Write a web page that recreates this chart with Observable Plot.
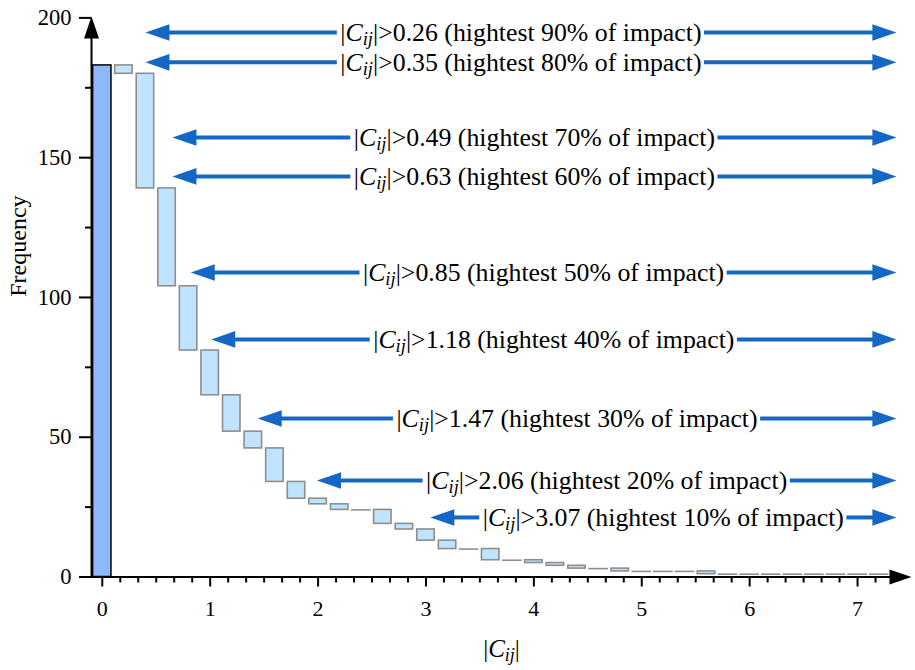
<!DOCTYPE html>
<html>
<head>
<meta charset="utf-8">
<script src="https://cdn.jsdelivr.net/npm/d3@7"></script>
<script src="https://cdn.jsdelivr.net/npm/@observablehq/plot@0.6"></script>
<style>
  html, body { margin: 0; padding: 0; background: #fff; }
  #chart svg { display: block; font-family: "Liberation Serif", serif; }
  #chart svg text, #chart svg tspan { font-family: "Liberation Serif", serif; }
</style>
</head>
<body>
<div id="chart"></div>
<script>
// ---- data ----
const binCenters = [0, 0.2, 0.4, 0.6, 0.8, 1.0, 1.2, 1.4, 1.6, 1.8, 2.0, 2.2, 2.4, 2.6, 2.8, 3.0, 3.2, 3.4, 3.6, 3.8,
                    4.0, 4.2, 4.4, 4.6, 4.8, 5.0, 5.2, 5.4, 5.6, 5.8, 6.0, 6.2, 6.4, 6.6, 6.8, 7.0, 7.2];
const remaining = [183, 180, 139, 104, 81, 65, 52, 46, 34, 28, 26, 24, 24, 19, 17, 13, 10, 10, 6, 6,
                   5, 4, 3, 3, 2, 2, 2, 2, 1, 1, 1, 1, 1, 1, 1, 1, 1];

const thresholds = ["0.26", "0.35", "0.49", "0.63", "0.85", "1.18", "1.47", "2.06", "3.07"];
const impactShares = [90, 80, 70, 60, 50, 40, 30, 20, 10];
const arrowLevels = [194.8, 184.1, 157.2, 143.3, 108.9, 85.0, 56.7, 34.5, 21.3];
const arrowStarts = [0.40, 0.40, 0.65, 0.65, 0.82, 1.01, 1.44, 1.99, 3.04];
const arrowEnd = 7.36;

const yMajorTicks = [0, 50, 100, 150, 200];
const yMinorTicks = [25, 75, 125, 175];
const xMajorTicks = [0, 1, 2, 3, 4, 5, 6, 7];
const xMinorTicks = d3.range(1, 44).map(i => i / 6).filter(v => Math.abs(v - Math.round(v)) > 1e-6);

// ---- layout ----
const W = 915, H = 670;
const mL = 91, mR = 4, mT = 16, mB = 93.5;
const xDomain = [-0.1, 7.5], yDomain = [0, 200.5];
const pxPerX = (W - mL - mR) / (xDomain[1] - xDomain[0]);
const halfW = 0.081;
const blue = "#1467c4";
const headLen = 24, headHalf = 8.3;
const serif = "Liberation Serif";
const annoSize = 25.8;
const subScale = 0.72;

function triangle(dir, len, half) {
  return {
    draw(ctx) {
      if (dir === "right") { ctx.moveTo(0, 0); ctx.lineTo(-len, -half); ctx.lineTo(-len, half); }
      else if (dir === "left") { ctx.moveTo(0, 0); ctx.lineTo(len, -half); ctx.lineTo(len, half); }
      else if (dir === "up") { ctx.moveTo(0, 0); ctx.lineTo(-half, len); ctx.lineTo(half, len); }
      ctx.closePath();
    }
  };
}

// measure the rich label width (for the gap in the arrow line)
const mctx = document.createElement("canvas").getContext("2d");
function measure(txt, style, size) {
  mctx.font = `${style} ${size}px "Liberation Serif", serif`;
  return mctx.measureText(txt).width;
}
function labelWidth(rest, size) {
  return measure("|", "normal", size) + measure("C", "italic", size) +
         measure("ij", "italic", size * subScale) + measure("|" + rest, "normal", size);
}

const firstBar = [{x: binCenters[0], value: remaining[0]}];
const boxes = binCenters.slice(1).map((x, i) => ({x, top: remaining[i], bottom: remaining[i + 1]}));
const realBoxes = boxes.filter(d => d.top !== d.bottom);
const flatBoxes = boxes.filter(d => d.top === d.bottom);

const arrows = thresholds.map((t, i) => {
  const rest = `>${t} (hightest ${impactShares[i]}% of impact)`;
  return {
    label: `|Cij|${rest}`,
    level: arrowLevels[i],
    start: arrowStarts[i],
    end: arrowEnd,
    halfText: (labelWidth(rest, annoSize) / 2 + 3) / pxPerX
  };
});
const midX = d => (d.start + d.end) / 2;

const chart = Plot.plot({
  width: W, height: H,
  marginLeft: mL, marginRight: mR, marginTop: mT, marginBottom: mB,
  x: {domain: xDomain, axis: null},
  y: {domain: yDomain, axis: null},
  style: {fontFamily: serif, background: "#fff", color: "#000"},
  marks: [
    // bars
    Plot.rect(firstBar, {x1: d => d.x - 0.085, x2: d => d.x + 0.085, y1: 0, y2: "value",
      fill: "#8cb9fb", stroke: "#000", strokeWidth: 1.5}),
    Plot.rect(realBoxes, {x1: d => d.x - halfW, x2: d => d.x + halfW, y1: "bottom", y2: "top",
      fill: "#c0e4ff", stroke: "#8e8e8e", strokeWidth: 1.6}),
    Plot.ruleY(flatBoxes, {y: "top", x1: d => d.x - halfW - 0.01, x2: d => d.x + halfW + 0.01,
      stroke: "#8e8e8e", strokeWidth: 1.6}),

    // axes
    Plot.axisY(yMajorTicks, {anchor: "left", tickSize: 12, tickPadding: 8, fontSize: 22.5, fontFamily: serif, strokeWidth: 2, label: null}),
    Plot.axisY(yMinorTicks, {anchor: "left", tickSize: 6, tickFormat: () => "", strokeWidth: 2, label: null}),
    Plot.axisX(xMajorTicks, {anchor: "bottom", tickSize: 10, tickPadding: 13, fontSize: 22, fontFamily: serif, strokeWidth: 2, label: null}),
    Plot.axisX(xMinorTicks, {anchor: "bottom", tickSize: 6, tickFormat: () => "", strokeWidth: 2, label: null}),
    Plot.ruleY([0], {x1: xDomain[0], x2: 7.45, stroke: "#000", strokeWidth: 2}),
    Plot.ruleX([xDomain[0]], {y1: 0, y2: 196, stroke: "#000", strokeWidth: 2}),
    Plot.dot([{x: xDomain[1], y: 0}], {x: "x", y: "y", symbol: triangle("right", 22, 7.5), fill: "#000", stroke: "none"}),
    Plot.dot([{x: xDomain[0], y: yDomain[1]}], {x: "x", y: "y", symbol: triangle("up", 22, 7.5), fill: "#000", stroke: "none"}),

    // annotation arrows: line on both sides of the text
    Plot.ruleY(arrows, {y: "level", x1: d => d.start + (headLen - 2) / pxPerX, x2: d => midX(d) - d.halfText,
      stroke: blue, strokeWidth: 4}),
    Plot.ruleY(arrows, {y: "level", x1: d => midX(d) + d.halfText, x2: d => d.end - (headLen - 2) / pxPerX,
      stroke: blue, strokeWidth: 4}),
    Plot.text(arrows, {x: midX, y: "level", text: "label", fontSize: annoSize, fontFamily: serif,
      fill: "#000", lineAnchor: "middle", textAnchor: "middle"}),
    Plot.dot(arrows, {x: "start", y: "level", symbol: triangle("left", headLen, headHalf), fill: blue, stroke: "none"}),
    Plot.dot(arrows, {x: "end", y: "level", symbol: triangle("right", headLen, headHalf), fill: blue, stroke: "none"}),

    // axis titles
    Plot.text(["|Cij|"], {frameAnchor: "bottom", dy: 71.5, fontSize: 25, fontFamily: serif, lineAnchor: "middle", fill: "#000"}),
    Plot.text(["Frequency"], {frameAnchor: "left", dx: -73, rotate: -90, fontSize: 24, fontFamily: serif, lineAnchor: "middle", fill: "#000"})
  ]
});

// rich formatting of |C_ij| (italic C, subscript ij)
const NS = "http://www.w3.org/2000/svg";
chart.querySelectorAll("text").forEach(t => {
  const s = t.textContent;
  if (!s.startsWith("|Cij|")) return;
  const rest = s.slice(5);
  t.textContent = "";
  const add = (txt, opts = {}) => {
    const ts = document.createElementNS(NS, "tspan");
    ts.textContent = txt;
    if (opts.italic) ts.setAttribute("font-style", "italic");
    if (opts.size) ts.setAttribute("font-size", opts.size);
    if (opts.dy != null) ts.setAttribute("dy", opts.dy);
    t.appendChild(ts);
  };
  add("|");
  add("C", {italic: true});
  add("ij", {italic: true, size: `${subScale * 100}%`, dy: 4.5});
  add("|" + rest, {dy: -4.5});
});

document.getElementById("chart").appendChild(chart);
</script>
</body>
</html>
